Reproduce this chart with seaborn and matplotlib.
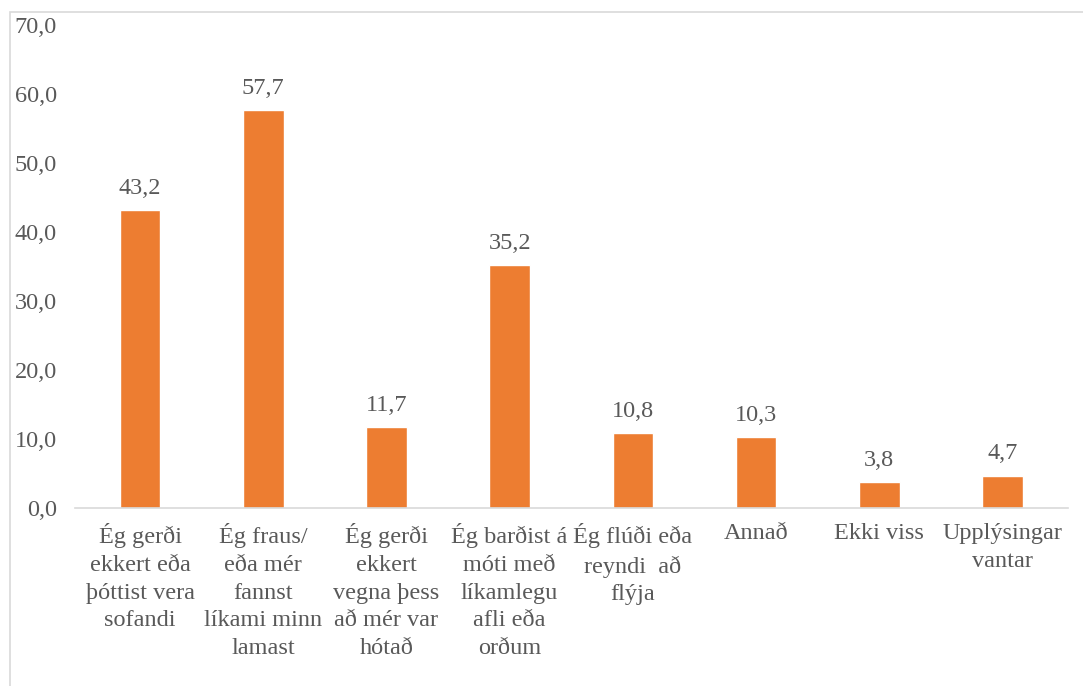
import matplotlib
matplotlib.use("Agg")
import matplotlib.pyplot as plt
import seaborn as sns
import pandas as pd
from matplotlib.patches import Rectangle

categories = [
    "Ég gerði\nekkert eða\nþóttist vera\nsofandi",
    "Ég fraus/\neða mér\nfannst\nlíkami minn\nlamast",
    "Ég gerði\nekkert\nvegna þess\nað mér var\nhótað",
    "Ég barðist á\nmóti með\nlíkamlegu\nafli eða\norðum",
    "Ég flúði eða\nreyndi  að\nflýja",
    "Annað",
    "Ekki viss",
    "Upplýsingar\nvantar",
]
values = [43.2, 57.7, 11.7, 35.2, 10.8, 10.3, 3.8, 4.7]
yticks = [0, 10, 20, 30, 40, 50, 60, 70]

df = pd.DataFrame({"cat": categories, "val": values})

sns.set_theme(style="white")
plt.rcParams["font.family"] = ["Liberation Serif", "DejaVu Serif"]
text_color = "#595959"
fs = 17.5

fig = plt.figure(figsize=(10.83, 6.86), dpi=100)
ax = fig.add_axes([0.069, 0.2595, 0.917, 0.7045])
sns.barplot(data=df, x="cat", y="val", color="#ED7D31", width=0.33,
            saturation=1, ax=ax)

ax.set_ylim(0, 70)
ax.set_yticks(yticks)
ax.set_yticklabels([f"{v:.1f}".replace(".", ",") for v in yticks],
                   fontsize=fs, color=text_color)
ax.set_xticks(range(len(categories)))
ax.set_xticklabels(categories, fontsize=fs, color=text_color, linespacing=1.42)
ax.tick_params(axis="y", length=0, pad=13)
ax.tick_params(axis="x", length=0, pad=11)
ax.set_xlabel("")
ax.set_ylabel("")
for s in ["top", "right", "left"]:
    ax.spines[s].set_visible(False)
ax.spines["bottom"].set_color("#d9d9d9")
ax.spines["bottom"].set_linewidth(1.2)
ax.set_xlim(-0.53, len(categories) - 0.47)

for c in ax.containers:
    ax.bar_label(c, labels=[f"{v:.1f}".replace(".", ",") for v in values],
                 padding=8, fontsize=fs, color=text_color)

fig.patches.append(Rectangle((10 / 1083, -0.1), 1.2, 1 - 12 / 686 + 0.1,
                             transform=fig.transFigure, fill=False,
                             edgecolor="#d9d9d9", linewidth=1.2, zorder=0))

fig.savefig("out.png", dpi=100)
